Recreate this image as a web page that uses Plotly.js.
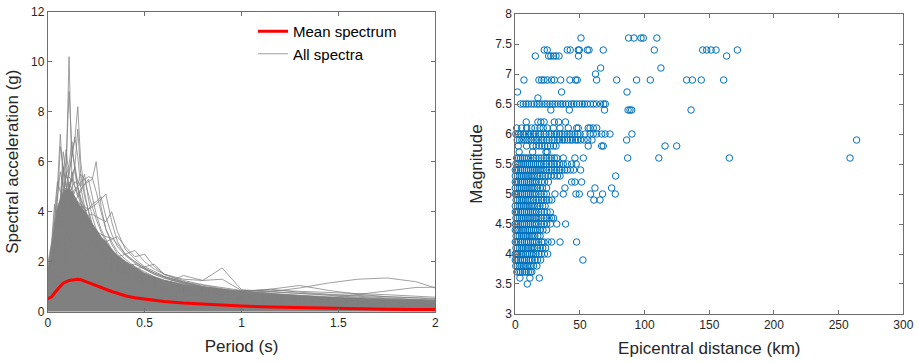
<!DOCTYPE html>
<html><head><meta charset="utf-8">
<script src="https://cdn.plot.ly/plotly-3.0.1.min.js"></script>
<style>html,body{margin:0;padding:0;background:#fff}#chart{width:918px;height:363px}</style>
</head><body><div id="chart"></div>
<script>
// ---------- Left panel: response spectra ----------
const periods = [0,0.02,0.035,0.05,0.065,0.08,0.095,0.11,0.125,0.14,0.155,0.17,0.19,0.21,0.23,0.25,0.275,0.3,0.33,0.36,0.4,0.45,0.5,0.55,0.6,0.7,0.8,0.9,1.0,1.15,1.3,1.45,1.6,1.75,1.9,2.0];
const meanSpectrum = [0.52,0.6,0.75,0.9,1.02,1.14,1.2,1.25,1.27,1.29,1.3,1.28,1.22,1.15,1.09,1.03,0.96,0.89,0.81,0.74,0.64,0.56,0.5,0.45,0.41,0.35,0.3,0.26,0.23,0.19,0.16,0.14,0.12,0.1,0.09,0.085];
// densely overlapped region covered by the bulk of the spectra
const bandUpper = [1.7,2.7,3.6,4.2,4.5,4.8,4.9,4.9,4.8,4.6,4.4,4.2,4.0,3.8,3.5,3.3,3.0,2.8,2.5,2.25,2.02,1.78,1.55,1.4,1.27,1.1,0.97,0.87,0.8,0.72,0.66,0.6,0.55,0.51,0.48,0.46];
const spectra = [
  [0.9,1.3,2.0,2.8,3.6,4.5,5.5,10.2,5.2,4.1,3.6,3.2,2.8,2.5,2.2,2.0,1.75,1.55,1.35,1.2,1.05,0.9,0.8,0.7,0.62,0.5,0.42,0.36,0.32,0.27,0.23,0.2,0.18,0.16,0.14,0.13],
  [1.0,1.5,2.3,3.0,4.2,5.5,6.0,8.8,6.5,5.8,7.3,5.5,4.6,4.0,3.5,3.0,2.6,2.3,2.0,1.7,1.5,1.3,1.15,1.0,0.9,0.75,0.62,0.55,0.48,0.42,0.36,0.32,0.29,0.26,0.24,0.22],
  [0.8,1.2,1.8,2.5,3.3,4.0,4.8,5.5,6.2,6.9,8.2,6.0,4.8,4.0,3.4,3.0,2.6,2.2,1.9,1.7,1.5,1.3,1.15,1.0,0.9,0.75,0.65,0.56,0.5,0.42,0.37,0.33,0.3,0.27,0.25,0.23],
  [1.2,2.0,3.5,5.0,7.1,5.2,4.6,5.1,4.2,3.6,3.2,2.8,2.5,2.2,1.9,1.7,1.5,1.35,1.2,1.05,0.95,0.85,0.75,0.68,0.6,0.5,0.43,0.38,0.34,0.29,0.25,0.22,0.2,0.18,0.16,0.15],
  [1.1,1.8,3.0,4.4,6.6,5.8,5.0,5.6,6.3,7.0,6.2,5.0,4.2,3.6,3.1,2.7,2.4,2.1,1.85,1.6,1.4,1.25,1.1,0.98,0.88,0.72,0.6,0.52,0.46,0.4,0.35,0.31,0.28,0.25,0.23,0.21],
  [0.6,0.9,1.3,1.8,2.3,2.8,3.3,3.7,4.1,4.4,4.6,4.9,5.1,5.2,5.3,6.0,4.2,3.3,2.7,2.3,2.0,1.7,1.5,1.3,1.15,0.95,0.8,0.7,0.62,0.52,0.45,0.4,0.35,0.32,0.29,0.27],
  [0.7,1.0,1.5,2.1,2.8,3.5,4.0,4.4,4.7,4.9,5.0,5.2,5.3,5.4,5.35,4.8,4.0,3.3,2.8,2.4,2.1,1.8,1.6,1.4,1.25,1.05,0.9,0.8,0.7,0.6,0.52,0.46,0.41,0.37,0.34,0.31],
  [0.5,0.8,1.1,1.5,1.9,2.3,2.7,3.0,3.3,3.5,3.7,3.9,4.0,4.1,4.2,4.3,4.5,4.7,3.6,2.8,2.3,2.0,1.75,1.55,1.4,1.15,1.0,0.88,0.78,0.66,0.57,0.5,0.45,0.41,0.37,0.34],
  [0.5,0.7,1.0,1.4,1.8,2.2,2.6,2.9,3.1,3.3,3.4,3.5,3.5,3.4,3.3,3.1,2.9,2.8,2.9,3.0,2.6,2.2,2.3,1.8,1.5,1.2,1.0,0.88,0.78,0.66,0.57,0.5,0.45,0.4,0.37,0.34],
  [0.4,0.6,0.9,1.2,1.6,2.0,2.3,2.6,2.8,2.9,3.0,3.0,2.9,2.8,2.7,2.6,2.5,2.4,2.2,2.0,1.85,1.7,1.8,1.9,1.5,1.3,1.25,1.75,0.88,0.8,0.72,0.64,0.58,0.52,0.48,0.45],
  [0.3,0.5,0.7,1.0,1.3,1.6,1.9,2.1,2.3,2.4,2.5,2.5,2.4,2.3,2.2,2.1,2.0,1.9,1.8,1.65,1.5,1.35,1.25,1.15,1.1,1.45,1.25,1.3,0.85,0.8,0.75,0.68,0.62,0.55,0.5,0.46],
  [0.3,0.45,0.65,0.9,1.15,1.4,1.6,1.8,1.9,2.0,2.0,2.0,1.95,1.9,1.8,1.7,1.6,1.5,1.4,1.3,1.2,1.1,1.0,0.95,0.9,0.85,0.8,0.77,0.75,0.8,0.95,1.15,1.3,1.35,1.2,0.95],
  [0.2,0.35,0.5,0.7,0.9,1.1,1.25,1.4,1.5,1.55,1.6,1.6,1.55,1.5,1.45,1.4,1.3,1.2,1.1,1.0,0.95,0.88,0.82,0.78,0.74,0.68,0.62,0.58,0.55,0.52,0.5,0.55,0.7,0.85,0.97,0.98],
  [0.3,0.5,0.8,1.1,1.5,1.9,2.2,2.5,2.7,2.8,2.9,2.9,2.8,2.7,2.6,2.4,2.2,2.0,1.8,1.6,1.4,1.25,1.1,1.0,0.92,0.82,0.8,0.78,0.82,0.9,1.05,0.85,0.7,0.6,0.55,0.5],
  [0.4,0.6,0.9,1.3,1.7,2.1,2.5,2.8,3.0,3.2,3.3,3.3,3.2,3.0,2.8,2.6,2.3,2.1,1.9,1.7,1.5,1.35,1.2,1.1,1.0,0.9,0.82,0.78,0.8,0.9,0.78,0.7,0.64,0.6,0.56,0.53],
  [1.0,1.6,2.5,3.3,4.2,5.0,5.6,5.0,4.5,4.8,5.0,4.6,4.1,3.6,3.2,2.9,2.6,2.3,2.0,1.8,1.6,1.4,1.25,1.12,1.0,0.85,0.72,0.63,0.56,0.48,0.42,0.38,0.34,0.31,0.28,0.26],
  [1.9,2.8,4.3,3.8,4.0,4.4,4.2,4.0,3.8,3.6,3.4,3.2,2.9,2.6,2.4,2.2,2.0,1.8,1.6,1.45,1.3,1.15,1.0,0.9,0.82,0.7,0.6,0.52,0.46,0.4,0.35,0.31,0.28,0.25,0.23,0.21],
  [0.8,1.3,2.0,2.9,3.8,5.8,5.0,4.8,5.6,5.0,4.6,4.8,5.1,5.3,4.6,3.9,3.3,2.9,2.5,2.2,1.9,1.65,1.45,1.3,1.15,0.95,0.8,0.7,0.62,0.54,0.47,0.42,0.38,0.34,0.31,0.29],
  [1.0,1.5,2.3,3.2,4.5,6.4,5.6,4.9,5.3,5.0,4.7,4.3,3.8,3.4,3.0,2.7,2.4,2.1,1.85,1.65,1.45,1.3,1.15,1.02,0.92,0.78,0.66,0.58,0.5,0.44,0.38,0.34,0.31,0.28,0.26,0.24],
  [0.3,0.5,0.75,1.05,1.4,1.75,2.05,2.3,2.5,2.65,2.75,2.8,2.8,2.75,2.7,2.6,2.45,2.3,2.1,1.9,1.7,1.5,1.35,1.2,1.1,0.98,0.9,0.86,0.84,0.86,0.82,0.76,0.72,0.68,0.62,0.58],
  [0.5,0.8,1.2,1.7,2.2,2.7,3.1,3.4,3.6,3.7,3.7,3.6,3.4,3.2,3.0,2.8,2.6,2.4,2.2,2.0,1.85,1.9,1.7,1.5,1.35,1.15,1.0,0.9,0.8,0.7,0.62,0.56,0.5,0.46,0.42,0.4],
  [0.6,0.9,1.4,2.0,2.6,3.2,3.7,4.1,4.3,4.4,4.4,4.3,4.1,3.8,3.5,3.2,2.9,2.6,2.3,2.05,1.8,1.6,1.4,1.25,1.12,0.95,0.82,0.72,0.64,0.56,0.5,0.45,0.41,0.38,0.35,0.33],
  [0.7,1.1,1.7,2.4,3.2,3.9,4.5,5.0,5.4,5.8,5.2,5.0,5.5,4.5,3.8,3.3,2.9,2.5,2.2,1.95,1.7,1.5,1.32,1.18,1.05,0.9,0.77,0.67,0.6,0.52,0.46,0.41,0.37,0.34,0.31,0.29],
  [0.5,0.8,1.2,1.6,2.1,2.5,2.9,3.2,3.4,3.5,3.6,3.6,3.5,3.4,3.3,3.2,3.1,3.0,2.95,2.7,2.3,2.0,1.75,1.55,1.4,1.2,1.05,0.92,0.82,0.7,0.6,0.54,0.49,0.45,0.41,0.38],
  [1.3,2.2,3.6,4.6,5.6,5.0,4.9,5.2,4.8,4.5,4.3,4.0,3.6,3.2,2.9,2.6,2.3,2.1,1.9,1.7,1.5,1.35,1.2,1.08,0.98,0.82,0.7,0.61,0.54,0.46,0.4,0.36,0.32,0.29,0.27,0.25],
  [1.0,1.6,2.6,3.6,4.6,5.5,6.5,5.4,5.2,5.8,5.0,4.5,4.0,3.6,3.2,2.9,2.6,2.3,2.05,1.85,1.65,1.45,1.3,1.17,1.05,0.88,0.76,0.66,0.58,0.5,0.44,0.39,0.35,0.32,0.29,0.27],
  [0.7,1.1,1.7,2.4,3.1,3.8,4.3,4.7,5.0,5.2,5.1,5.5,5.3,4.7,4.2,3.7,3.2,2.8,2.45,2.15,1.9,1.65,1.45,1.3,1.16,0.97,0.83,0.73,0.65,0.56,0.49,0.44,0.4,0.36,0.33,0.31],
  [0.9,1.4,2.2,3.1,4.0,4.8,5.4,5.9,6.8,5.6,4.9,4.4,3.9,3.5,3.1,2.8,2.5,2.2,1.95,1.75,1.55,1.38,1.22,1.1,0.99,0.84,0.72,0.63,0.56,0.48,0.42,0.38,0.34,0.31,0.28,0.26],
  [0.5,0.8,1.2,1.7,2.2,2.7,3.1,3.5,3.8,4.0,4.1,4.2,4.2,4.1,4.3,4.4,4.6,3.8,3.1,2.6,2.25,1.95,1.7,1.5,1.35,1.12,0.96,0.84,0.75,0.64,0.56,0.5,0.45,0.41,0.38,0.35],
  [0.4,0.7,1.0,1.4,1.8,2.2,2.6,2.9,3.2,3.4,3.6,3.7,3.8,3.85,3.9,3.8,3.7,3.6,4.0,3.2,2.5,2.1,1.8,1.6,1.42,1.18,1.0,0.88,0.78,0.67,0.58,0.52,0.47,0.43,0.39,0.36],
  [1.5,2.6,4.0,5.2,4.8,4.9,4.7,4.5,4.3,4.1,3.9,3.7,3.4,3.1,2.8,2.6,2.35,2.1,1.9,1.7,1.5,1.33,1.18,1.06,0.96,0.8,0.68,0.6,0.53,0.45,0.39,0.35,0.31,0.28,0.26,0.24],
  [0.4,0.6,0.9,1.3,1.7,2.0,2.4,2.7,2.9,3.0,3.1,3.1,3.0,2.9,2.8,2.7,2.55,2.4,2.3,2.2,2.3,2.45,2.0,1.7,1.5,1.25,1.08,0.95,0.85,0.73,0.63,0.56,0.5,0.46,0.42,0.4]
];

// ---------- Right panel: magnitude vs epicentral distance ----------
const magLevels = [3.5,3.6,3.7,3.8,3.9,4.0,4.1,4.2,4.3,4.4,4.5,4.6,4.7,4.8,4.9,5.0,5.1,5.2,5.3,5.4,5.5,5.6,5.7,5.8,5.9,6.0,6.1,6.2,6.4,6.5,6.6,6.7,6.9,7.0,7.1,7.3,7.4,7.6];
const distByMag = [
  [9.3],
  [3.6,11.3,18.6],
  [1.2,2.8,4.1,5.6,7.3,8.4,10.1,11.6,12.8],
  [0.4,1.6,3.1,4.4,6.2,7.5,9.1,10.6,12.2,14.1,16.7],
  [0,1.1,2.4,3.9,5.6,7.2,8.6,10.2,11.4,13.1,15.3,17.2,19.6,52.3],
  [0,0.9,2.1,3.6,5.1,6.4,8.2,9.6,11.1,12.7,14.2,16.1,18.3,20.2,22.6,25.1],
  [0.5,1.6,3.2,4.6,6.1,7.7,9.2,10.4,12.1,13.6,15.2,17.1,19.3,21.2,23.4],
  [0,1.2,2.6,4.1,5.4,7.1,8.6,10.1,11.7,13.2,14.6,16.3,18.1,20.4,22.2,25.3,28.1,34.6,47.4],
  [0.6,1.7,3.1,4.7,6.2,7.6,9.1,10.7,12.3,13.6,15.2,17.4,19.2],
  [0,1.1,2.2,3.6,5.2,6.6,8.1,9.7,11.2,12.6,14.1,15.7,17.3,19.1,21.4,24.2],
  [0,1.2,2.6,4.1,5.7,7.1,8.7,10.2,11.6,13.1,14.7,16.2,18.1,20.2,22.1,24.3,27.2,32.1,38.9],
  [0.5,1.6,3.2,4.6,6.1,7.6,9.2,10.6,12.1,13.7,15.2,16.6,18.2,20.1,22.3,24.1,26.2,28.1,29.6],
  [0,1.1,2.6,4.2,5.6,7.1,8.6,10.2,11.7,13.1,14.6,16.2,18.2,20.1,22.3,24.6,27.1],
  [0,1.6,3.1,4.6,6.2,7.6,9.1,10.7,12.2,13.6,15.1,17.2,19.1,21.2,23.1],
  [0.6,1.7,3.2,4.6,6.1,7.7,9.2,10.6,12.2,14.1,16.2,18.1,20.3,22.1,24.2,26.1,28.2,60.8,65.5],
  [0,1.1,2.6,4.1,5.6,7.2,8.6,10.1,11.6,13.2,14.6,16.1,18.2,20.1,22.2,24.1,30.7,37.1,46.9,49.5,58.2,67.5,77.3],
  [0,1.6,3.1,4.6,6.2,7.6,9.1,10.6,12.2,13.6,15.2,17.1,19.2,21.1,24.2,38.4,61.6,74.5],
  [0,1.1,2.6,4.2,5.6,7.1,8.7,10.2,11.6,13.1,14.6,16.2,18.1,20.2,22.6,25.6,43.6,46.1,51.3],
  [0,1.6,3.1,4.6,6.1,7.7,9.1,10.6,12.1,13.7,15.1,17.2,19.1,21.2,23.1,25.2,27.6,30.1,32.6,34.6,77.6],
  [0,1.1,2.6,4.1,5.6,7.1,8.6,10.1,11.7,13.2,14.6,16.1,17.6,19.1,20.6,22.2,24.1,26.2,28.1,30.2,32.1,34.2,36.1,38.2,40.1,42.6,45.1,50.5],
  [0.5,2.1,3.6,5.1,6.6,8.1,9.6,11.1,12.6,14.1,15.6,17.1,18.6,20.1,22.2,24.1,26.2,28.1,30.2,32.1,34.2,37.1,40.2,43.6,47.1],
  [1.1,2.6,4.1,5.6,7.1,8.6,10.2,12.1,14.2,16.1,18.2,20.1,22.2,24.1,26.2,28.1,30.2,32.1,37.1,46.1,52.6,86.9,111,165.5,258.8],
  [3,13.4,23.7,24.7],
  [2.3,8.8,13.6,16.2,18.5,20.6,22.8,25,27.2,29.5,31.5,56.4,66.8,68,115.8,124.8],
  [1.5,3.2,5.1,6.8,8.9,10.6,12.4,14.5,16.3,18.2,20.4,22.1,24.3,26.2,28.4,30.1,32.5,34.2,36.4,38.1,40.3,42.5,44.2,46.6,48.3,50.5,53.2,56.1,59.3,86.1,263.9],
  [0.5,2.6,4.2,6.3,8.1,10.2,11.9,14.1,15.8,18.1,19.7,22.2,23.8,26.1,27.9,30.2,31.8,34.1,36.2,37.9,40.1,42.2,43.9,46.1,48.2,50.1,53.9,57.8,60.3,63,66.8,69.4,73.2,90.2],
  [1.1,4.9,8.8,12.5,15.2,19.1,21.6,24.7,29.4,34.6,41,47.5,48.7,56.4,57.8,60.3,63],
  [8.5,17.5,19.8,22.3,30.2,33.5,38.8],
  [27.5,41.8,69,87.2,88.7,90,135.9],
  [4.1,6.2,8.3,10.1,12.4,14.6,16.8,18.5,20.7,22.9,24.6,26.8,28.9,30.7,32.9,35.1,36.8,39,41.2,43.5,45.3,47.4,49.6,51.8,53.5,55.7,58.1,60.4,62.7,65.9,68.3,69.6],
  [17.5],
  [1.7,35.8,86.4],
  [6.7,18.3,20.4,22.2,24.7,28.1,30.2,35.1,42.3,46.6,47.9,62.9,78.4,93.8,104.4,132.5,136.9,143.8,161.1],
  [62],
  [66,112.6],
  [15.5,25.8,27.5,29.5,31.5,33.8,48.9,163.4],
  [22.4,24.7,40.2,42.5,48.7,49.5,55.7,57,68,107.5,144.9,148,151.4,155.2,171.7],
  [50.8,87.6,91.8,97.2,99,109.5]
];

const eqDist = [], eqMag = [];
magLevels.forEach((m, i) => distByMag[i].forEach(d => { eqDist.push(d); eqMag.push(m); }));

const GRAY = '#808080';
const traces = [];
traces.push({x: periods, y: bandUpper, type: 'scatter', mode: 'lines', fill: 'tozeroy',
  fillcolor: GRAY, line: {color: GRAY, width: 0.7}, showlegend: false, hoverinfo: 'skip', xaxis: 'x', yaxis: 'y'});
spectra.forEach((s, i) => traces.push({x: periods, y: s, type: 'scatter', mode: 'lines',
  line: {color: GRAY, width: 0.75}, name: 'All spectra', showlegend: i === 0, legendrank: 2,
  xaxis: 'x', yaxis: 'y'}));
traces.push({x: periods, y: meanSpectrum, type: 'scatter', mode: 'lines',
  line: {color: '#ff0000', width: 3}, name: 'Mean spectrum', legendrank: 1, xaxis: 'x', yaxis: 'y'});
traces.push({x: eqDist, y: eqMag, type: 'scatter', mode: 'markers', cliponaxis: false,
  marker: {symbol: 'circle-open', size: 6.5, color: '#0072BD', line: {width: 1, color: '#0072BD'}},
  showlegend: false, xaxis: 'x2', yaxis: 'y2'});

const FONT = 'Liberation Sans, Arial, Helvetica, sans-serif';
const axBase = {showline: true, linecolor: '#6e6e6e', linewidth: 1, mirror: 'ticks', ticks: 'inside',
  ticklen: 4, tickcolor: '#6e6e6e', showgrid: false, zeroline: false,
  tickfont: {family: FONT, size: 12, color: '#262626'}};
const titleFont = {family: FONT, size: 17, color: '#262626'};

const layout = {
  width: 918, height: 363, margin: {l: 0, r: 0, t: 0, b: 0},
  paper_bgcolor: '#fff', plot_bgcolor: '#fff',
  font: {family: FONT, color: '#262626'},
  xaxis: Object.assign({}, axBase, {domain: [0.052, 0.4742], range: [0, 2], tick0: 0, dtick: 0.5,
    title: {text: 'Period (s)', font: titleFont, standoff: 10}, anchor: 'y'}),
  yaxis: Object.assign({}, axBase, {domain: [0.1413, 0.9678], range: [0, 12], tick0: 0, dtick: 2,
    title: {text: 'Spectral acceleration (g)', font: titleFont, standoff: 8}, anchor: 'x'}),
  xaxis2: Object.assign({}, axBase, {domain: [0.5613, 0.984], range: [0, 300], tick0: 0, dtick: 50,
    title: {text: 'Epicentral distance (km)', font: titleFont, standoff: 10}, anchor: 'y2'}),
  yaxis2: Object.assign({}, axBase, {domain: [0.135, 0.9614], range: [3, 8], tick0: 3, dtick: 0.5,
    title: {text: 'Magnitude', font: titleFont, standoff: 8}, anchor: 'x2'}),
  showlegend: true,
  legend: {x: 253/918, y: 1 - 15/363, xanchor: 'left', yanchor: 'top', bgcolor: 'rgba(0,0,0,0)',
    font: {family: FONT, size: 15, color: '#000'}, borderwidth: 0}
};

Plotly.newPlot('chart', traces, layout, {displayModeBar: false, staticPlot: true});
</script></body></html>
